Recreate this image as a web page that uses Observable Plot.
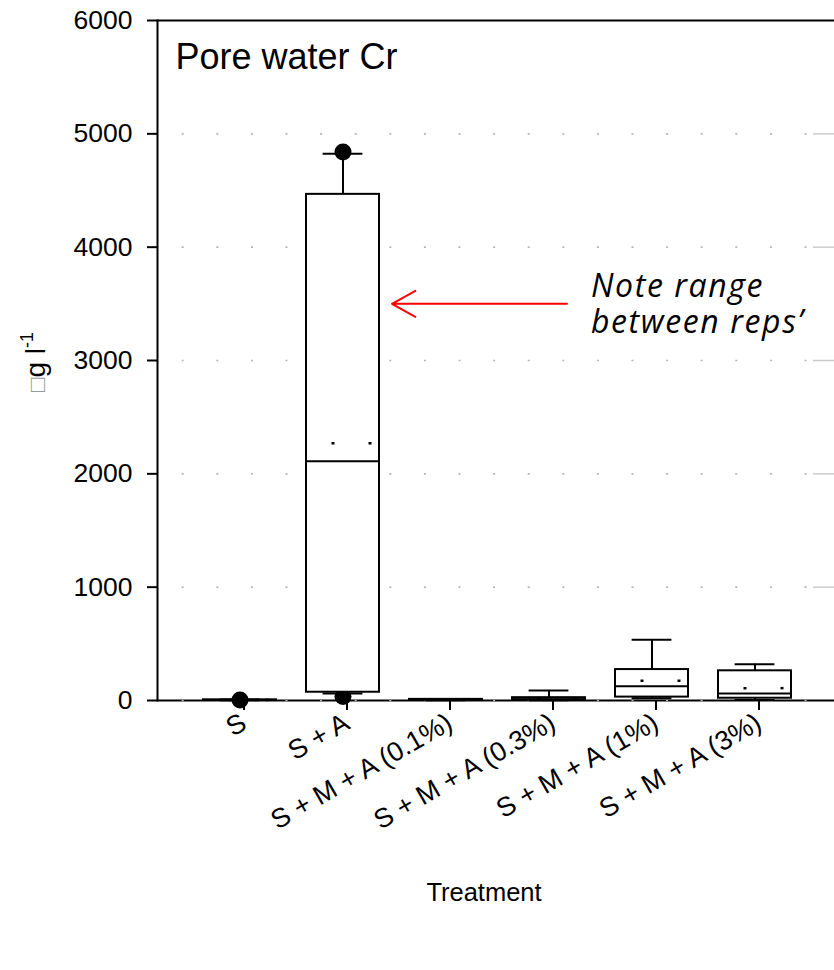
<!DOCTYPE html>
<html><head><meta charset="utf-8">
<script src="https://cdn.jsdelivr.net/npm/d3@7"></script>
<script src="https://cdn.jsdelivr.net/npm/@observablehq/plot@0.6"></script>
<style>
body{margin:0;background:#fff;}
</style></head><body><div id="chart"></div>
<script>
// ---- data ----
const categories = ["S", "S + A", "S + M + A (0.1%)", "S + M + A (0.3%)", "S + M + A (1%)", "S + M + A (3%)"];
const whiskerLow  = [2,   62,   3,  3,  20,   5];
const q1          = [2,   73,   4,  5,  30,  20];
const median      = [4, 2110,   6, 12, 126,  62];
const q3          = [6, 4466,  10, 25, 273, 262];
const whiskerHigh = [8, 4825,  12, 88, 535, 320];
const means       = [5, 2270,   7, 18, 174, 109];
const outlierCategories = ["S", "S + A", "S + A"];
const outlierValues     = [5, 4840, 35];
const yTicks = [0, 1000, 2000, 3000, 4000, 5000, 6000];
const gridValues = [1000, 2000, 3000, 4000, 5000];
const titleText = "Pore water Cr";
const xLabel = "Treatment";
const noteText = "Note range\nbetween reps\u2019";
const noteY = 3500;
const noteFrom = "S + M + A (0.3%)";
const noteTo = "S + A";

const boxes = categories.map((c, i) => ({
  category: c, lo: whiskerLow[i], q1: q1[i], med: median[i], q3: q3[i], hi: whiskerHigh[i], mean: means[i]
}));
const outliers = outlierCategories.map((c, i) => ({category: c, value: outlierValues[i]}));

const chart = Plot.plot({
  width: 834, height: 970,
  marginLeft: 157, marginRight: 0, marginTop: 20, marginBottom: 270,
  style: {fontFamily: "'Liberation Sans', Arial, sans-serif", fontSize: "25px", background: "white", color: "black", overflow: "visible"},
  x: {domain: categories, range: [157, 837], paddingInner: 0.29, paddingOuter: 0.44, axis: null},
  y: {domain: [0, 6000], axis: null},
  marks: [
    Plot.ruleY(gridValues, {stroke: "#b5b5b5", strokeWidth: 1.6, strokeDasharray: "2,32.6", strokeDashoffset: 9.9}),
    Plot.ruleY(gridValues, {stroke: "#c8c8c8", strokeWidth: 1.4, insetLeft: 656}),
    Plot.axisY({ticks: yTicks, tickSize: 10, tickPadding: 15, tickFormat: d => String(d), strokeWidth: 2, label: null, fontSize: 26.5}),
    Plot.axisX({tickSize: 10, tickRotate: -30, tickPadding: 10, dx: 4, strokeWidth: 2, label: null, fontSize: 27}),
    Plot.ruleY([0, 6000], {strokeWidth: 2}),
    Plot.frame({anchor: "left", strokeWidth: 2}),
    Plot.ruleY([0], {stroke: "#b5b5b5", strokeWidth: 1.6, strokeDasharray: "2,32.6", strokeDashoffset: 9.9}),
    // box plots
    Plot.dot(outliers, {x: "category", y: "value", r: 8.5, fill: "black", stroke: "none"}),
    Plot.ruleX(boxes, {x: "category", y1: "lo", y2: "hi", strokeWidth: 2}),
    Plot.tickY(boxes, {x: "category", y: "hi", strokeWidth: 2, insetLeft: 16.6, insetRight: 16.6}),
    Plot.tickY(boxes, {x: "category", y: "lo", strokeWidth: 2, insetLeft: 16.6, insetRight: 16.6}),
    Plot.barY(boxes, {x: "category", y1: "q1", y2: "q3", fill: "white", stroke: "black", strokeWidth: 2}),
    Plot.tickY(boxes, {x: "category", y: "med", strokeWidth: 2}),
    Plot.tickY(boxes, {x: "category", y: "mean", strokeWidth: 2.5, strokeDasharray: "3,34", strokeDashoffset: 11.5}),
    // title, axis label, annotation
    Plot.text([titleText], {text: d => d, frameAnchor: "top-left", dx: 18, dy: 48.3, lineAnchor: "bottom", textAnchor: "start", fontSize: 36}),
    Plot.text([xLabel], {text: d => d, frameAnchor: "bottom", dx: -12, dy: 200, lineAnchor: "bottom", fontSize: 25.5}),
    Plot.arrow([{from: noteFrom, to: noteTo, y: noteY}], {x1: d => d.from, x2: d => d.to, y1: d => d.y, y2: d => d.y, stroke: "#ff0000", strokeWidth: 2, headLength: 20, headAngle: 58, dx: 18, insetEnd: 31}),
    Plot.text([{x: noteFrom, y: noteY, label: noteText}], {x: "x", y: "y", text: "label", dx: 42, textAnchor: "start", lineAnchor: "middle", fontSize: 32, fontStyle: "italic", fontFamily: "'Open Sans', sans-serif", lineHeight: 1.125})
  ]
});

const svg = d3.select(chart);
// letter spacing of the annotation text
svg.selectAll("text").filter(function() { return this.textContent.indexOf("Note range") >= 0; })
  .attr("letter-spacing", "1.6px");

// y-axis label with superscript
const yl = svg.append("text")
  .attr("transform", "translate(45,362) rotate(-90)")
  .attr("text-anchor", "middle")
  .attr("font-size", 28)
  .attr("fill", "black");
yl.append("tspan").attr("fill", "#999").attr("font-size", 24).text("\u25A1");
yl.append("tspan").text("g l");
yl.append("tspan").attr("font-size", 18).attr("dy", -12).text("-1");

document.getElementById("chart").appendChild(chart);
</script>
</body></html>
